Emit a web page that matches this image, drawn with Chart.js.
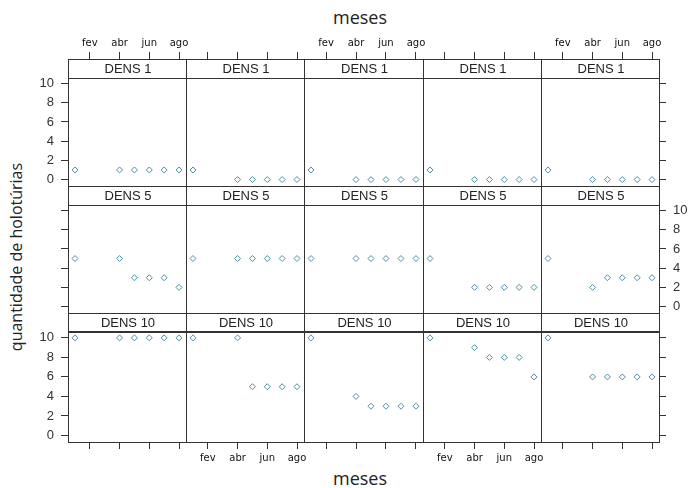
<!DOCTYPE html>
<html><head><meta charset="utf-8">
<script src="https://cdn.jsdelivr.net/npm/chart.js@4.4.0/dist/chart.umd.min.js"></script>
<style>
html,body{margin:0;padding:0;background:#fff}
body{width:688px;height:488px;position:relative;overflow:hidden}
canvas{position:absolute}
.t{position:absolute;color:#222;font-family:"Open Sans",sans-serif;white-space:nowrap}
</style></head><body>
<div class="t" style="left:260px;width:200px;top:5px;text-align:center;font-size:18px;line-height:24px">meses</div>
<div class="t" style="left:260px;width:200px;top:466px;text-align:center;font-size:18px;line-height:24px">meses</div>
<div class="t" style="left:16px;top:257px;width:260px;margin-left:-130px;margin-top:-11px;text-align:center;font-size:16px;line-height:22px;transform:rotate(-90deg)">quantidade de holotúrias</div>
<script>
// ---- data ----
const monthValues = [1, 4, 5, 6, 7, 8];          // jan, abr, mai, jun, jul, ago
const tickMonths = [2, 4, 6, 8];
const tickMonthNames = ['fev', 'abr', 'jun', 'ago'];
const yTicks = [0, 2, 4, 6, 8, 10];
const stripLabels = ['DENS 1', 'DENS 5', 'DENS 10'];
const dens1 = [
  [1, 1, 1, 1, 1, 1],
  [1, 0, 0, 0, 0, 0],
  [1, 0, 0, 0, 0, 0],
  [1, 0, 0, 0, 0, 0],
  [1, 0, 0, 0, 0, 0]
];
const dens5 = [
  [5, 5, 3, 3, 3, 2],
  [5, 5, 5, 5, 5, 5],
  [5, 5, 5, 5, 5, 5],
  [5, 2, 2, 2, 2, 2],
  [5, 2, 3, 3, 3, 3]
];
const dens10 = [
  [10, 10, 10, 10, 10, 10],
  [10, 10, 5, 5, 5, 5],
  [10, 4, 3, 3, 3, 3],
  [10, 9, 8, 8, 8, 6],
  [10, 6, 6, 6, 6, 6]
];
const rowsData = [dens1, dens5, dens10];

// ---- layout / style ----
const colLeft = [68, 186, 304, 423, 541];
const colW = [118, 118, 119, 118, 118];
const rowTop = [59, 186, 313];
const rowH = [127, 127, 129];
const M = 50;
const STRIP = 18.5;
const XMIN = 0.53, XMAX = 8.47;
const YMIN = -0.67, YMAX = 12.55;
const PT = '#4a8fa3';
const AX = '#333';

const panelPlugin = {
  id: 'panel',
  afterDraw(chart) {
    const { ctx, chartArea: a } = chart;
    const o = chart.options.plugins.panel;
    ctx.save();
    ctx.strokeStyle = AX;
    ctx.lineWidth = 1;
    ctx.strokeRect(a.left + 0.5, a.top + 0.5, a.right - a.left, a.bottom - a.top);
    ctx.lineWidth = o.row === 2 ? 2 : 1;
    ctx.beginPath();
    const sb = Math.round(a.top + STRIP) + (o.row === 2 ? 0 : 0.5);
    ctx.moveTo(a.left, sb); ctx.lineTo(a.right + 1, sb); ctx.stroke();
    ctx.fillStyle = '#222';
    ctx.font = '13px "Liberation Sans", Arial, sans-serif';
    ctx.textAlign = 'center';
    ctx.textBaseline = 'middle';
    ctx.fillText(o.label, (a.left + a.right) / 2 + 1, a.top + STRIP / 2 + 1);
    ctx.restore();
  }
};

function fix(prop) {
  return s => { s[prop] = M; s.paddingLeft = 0; s.paddingRight = 0; s.paddingTop = 0; s.paddingBottom = 0; };
}
function xAxis(pos, ticksOn, labelsOn) {
  return {
    type: 'linear', position: pos, min: XMIN, max: XMAX,
    afterBuildTicks: s => { s.ticks = tickMonths.map(v => ({ value: v })); },
    afterFit: fix('height'),
    border: { display: false },
    grid: { drawOnChartArea: false, drawTicks: ticksOn, tickLength: 7, tickColor: AX, tickWidth: 1 },
    ticks: {
      display: true, autoSkip: false, maxRotation: 0, padding: 3, color: '#111',
      font: { family: '"DejaVu Sans", sans-serif', size: 10, weight: '500' },
      callback: v => labelsOn ? tickMonthNames[tickMonths.indexOf(v)] : ''
    }
  };
}
function yAxis(pos, ticksOn, labelsOn) {
  return {
    type: 'linear', position: pos, min: YMIN, max: YMAX,
    afterBuildTicks: s => { s.ticks = yTicks.map(v => ({ value: v })); },
    afterFit: fix('width'),
    border: { display: false },
    grid: { drawOnChartArea: false, drawTicks: ticksOn, tickLength: 7, tickColor: AX, tickWidth: 1 },
    ticks: {
      display: true, autoSkip: false, padding: 7, color: '#333',
      font: { family: '"Liberation Sans", Arial, sans-serif', size: 13 },
      callback: v => labelsOn ? String(v) : ''
    }
  };
}

for (let r = 0; r < 3; r++) {
  for (let c = 0; c < 5; c++) {
    const cv = document.createElement('canvas');
    const W = colW[c] + 2 * M, H = rowH[r] + 2 * M;
    cv.width = W; cv.height = H;
    cv.style.left = (colLeft[c] - M) + 'px';
    cv.style.top = (rowTop[r] - M) + 'px';
    cv.style.width = W + 'px'; cv.style.height = H + 'px';
    document.body.appendChild(cv);
    const vals = rowsData[r][c];
    new Chart(cv, {
      type: 'scatter',
      data: {
        datasets: [{
          data: monthValues.map((m, i) => ({ x: m, y: vals[i] })),
          pointStyle: 'rectRot', pointRadius: 3, pointBorderWidth: 1,
          borderColor: PT, backgroundColor: 'rgba(255,255,255,0)',
          xAxisID: 'x', yAxisID: 'y'
        }]
      },
      options: {
        responsive: false, animation: false, devicePixelRatio: 1, events: [],
        layout: { padding: 0 },
        plugins: { legend: { display: false }, tooltip: { enabled: false },
          panel: { label: stripLabels[r], row: r } },
        scales: {
          x: xAxis('bottom', r === 2, r === 2 && (c % 2 === 1)),
          x2: xAxis('top', r === 0, r === 0 && (c % 2 === 0)),
          y: yAxis('left', c === 0, c === 0 && r !== 1),
          y2: yAxis('right', c === 4, c === 4 && r === 1)
        }
      },
      plugins: [panelPlugin]
    });
  }
}
</script>
</body></html>
